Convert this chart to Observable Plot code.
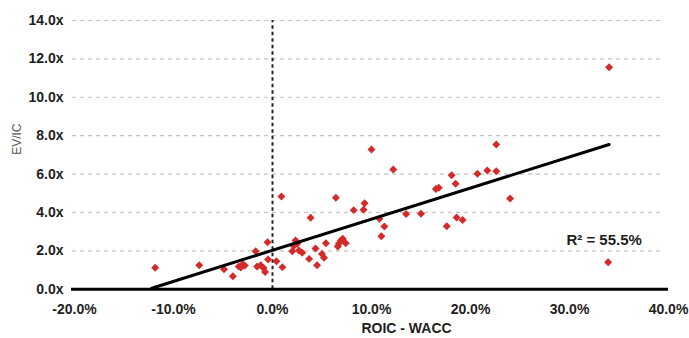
<!DOCTYPE html>
<html>
<head>
<meta charset="utf-8">
<script src="https://cdn.jsdelivr.net/npm/d3@7"></script>
<script src="https://cdn.jsdelivr.net/npm/@observablehq/plot@0.6"></script>
<style>
  html, body { margin: 0; padding: 0; background: #fff; }
  #chart svg { display: block; }
</style>
</head>
<body>
<div id="chart"></div>
<script>
// ROIC - WACC (%) and EV/IC (x) for each company
const roicMinusWacc = [
  -11.85, -7.4, -4.9, -4.0, -3.4, -3.0, -2.8, -3.2, -1.7, -1.55,
  -1.2, -0.9, -0.75, -0.5, -0.45, 0.4, 0.9, 1.0, 2.33, 2.5,
  2.16, 2.0, 2.67, 3.0, 3.85, 3.7, 4.35, 4.5, 5.0, 5.2,
  5.4, 6.4, 6.6, 6.7, 6.9, 7.1, 7.4, 8.2, 9.2, 9.3,
  10.0, 10.8, 11.0, 11.3, 12.2, 13.5, 15.0, 16.5, 16.8, 17.6,
  18.1, 18.5, 18.6, 19.2, 20.7, 21.7, 22.6, 22.6, 24.0, 34.0,
  33.9
];
const evIc = [
  1.12, 1.25, 1.04, 0.68, 1.18, 1.30, 1.24, 1.13, 1.98, 1.18,
  1.25, 1.10, 0.90, 2.45, 1.55, 1.46, 4.83, 1.15, 2.54, 2.37,
  2.25, 1.98, 2.02, 1.90, 3.72, 1.58, 2.12, 1.25, 1.84, 1.64,
  2.40, 4.76, 2.22, 2.37, 2.54, 2.63, 2.40, 4.12, 4.14, 4.48,
  7.28, 3.67, 2.76, 3.27, 6.24, 3.92, 3.93, 5.22, 5.28, 3.28,
  5.94, 5.49, 3.74, 3.60, 6.01, 6.19, 6.15, 7.54, 4.72, 11.57,
  1.41
];
// trend line (as drawn in the source)
const trendX = [-12.2, 34.0];
const trendY = [0.05, 7.54];
// annotation
const r2Label = ["R² = 55.5%"];
const r2X = [33.5];
const r2Y = [2.54];

const xTicks = [-20, -10, 0, 10, 20, 30, 40];
const yTicks = [0, 2, 4, 6, 8, 10, 12, 14];
const xLabel = "ROIC - WACC";
const yLabel = "EV/IC";

const points = roicMinusWacc.map((x, i) => ({x, y: evIc[i]}));
const trend = trendX.map((x, i) => ({x, y: trendY[i]}));
const notes = r2Label.map((t, i) => ({t, x: r2X[i], y: r2Y[i]}));

const chart = Plot.plot({
  width: 689,
  height: 338,
  marginLeft: 74,
  marginRight: 21,
  marginTop: 20,
  marginBottom: 49.3,
  style: {fontFamily: "'Liberation Sans', Arial, sans-serif", background: "#fff"},
  x: {domain: [-20, 40], label: null},
  y: {domain: [0, 14], label: null},
  marks: [
    Plot.gridY(yTicks, {stroke: "#c4c4c4", strokeOpacity: 1, strokeDasharray: "4,4", strokeWidth: 1.2, insetLeft: -2, insetRight: 5}),
    Plot.axisY(yTicks, {tickSize: 0, tickPadding: 11, fontSize: 14, fontWeight: "bold", fill: "#1e1e1e", label: null,
      tickFormat: d => d.toFixed(1) + "x"}),
    Plot.axisX(xTicks, {tickSize: 0, tickPadding: 15, fontSize: 14, fontWeight: "bold", fill: "#1e1e1e", label: null,
      tickFormat: d => d.toFixed(1) + "%"}),
    Plot.ruleX([0], {y1: 0, y2: 14, stroke: "#222", strokeWidth: 2, strokeDasharray: "3.5,3"}),
    Plot.dot(points, {x: "x", y: "y", symbol: "diamond2", r: 3.6, fill: "#d42a2a", stroke: "none"}),
    Plot.line(trend, {x: "x", y: "y", stroke: "#000", strokeWidth: 3}),
    Plot.ruleY([0], {stroke: "#000", strokeWidth: 3, insetLeft: -3}),
    Plot.text(notes, {x: "x", y: "y", text: "t", fontSize: 15, fontWeight: "bold", fill: "#1e1e1e"}),
    Plot.text([xLabel], {frameAnchor: "bottom", dx: 35, dy: 44, fontSize: 14, fontWeight: "bold", fill: "#1e1e1e"}),
    Plot.text([yLabel], {frameAnchor: "left", dx: -57, rotate: -90, fontSize: 12, fill: "#555"})
  ]
});
document.getElementById("chart").appendChild(chart);
</script>
</body>
</html>
